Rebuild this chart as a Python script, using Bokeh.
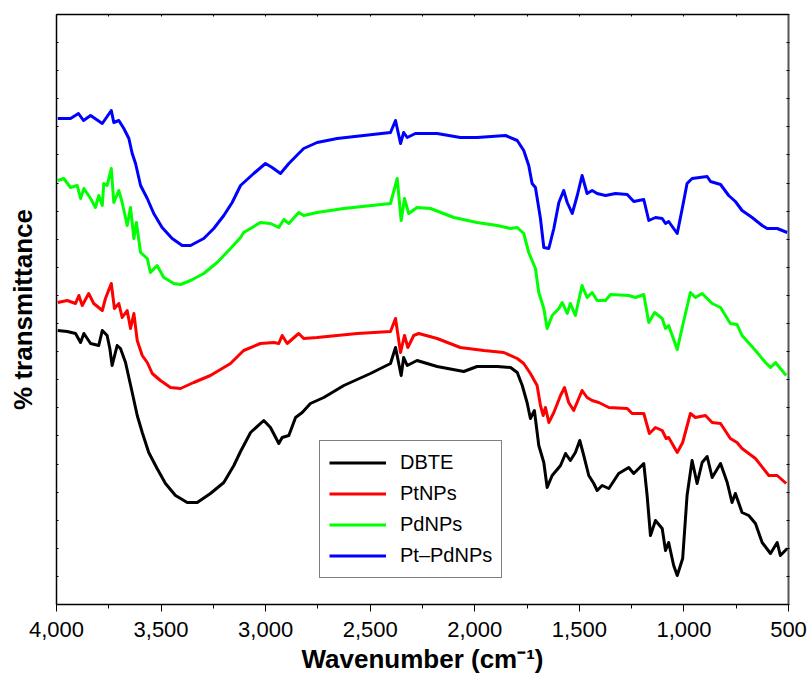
import math
from bokeh.plotting import figure
from bokeh.models import (Range1d, LinearAxis, FixedTicker, NumeralTickFormatter,
                          Legend, LegendItem, CustomJSTickFormatter)
from bokeh.embed import file_html
from bokeh.resources import INLINE

# ---- data (wavenumber, cm-1 ; transmittance in arbitrary offset units) ----
wn_dbte = [3994, 3949, 3909, 3885, 3869, 3837, 3798, 3781, 3758, 3745, 3734, 3710, 3694, 3670,
           3654, 3638, 3614, 3590, 3559, 3519, 3479, 3431, 3375, 3327, 3264, 3200, 3152, 3120,
           3072, 3009, 2977, 2937, 2921, 2889, 2857, 2825, 2786, 2722, 2626, 2499, 2403, 2379,
           2352, 2340, 2323, 2276, 2180, 2053, 1989, 1893, 1829, 1797, 1773, 1750, 1734, 1715,
           1694, 1670, 1654, 1630, 1590, 1566, 1543, 1519, 1498, 1479, 1455, 1431, 1415, 1391,
           1359, 1312, 1264, 1240, 1216, 1192, 1176, 1160, 1136, 1104, 1088, 1073, 1049, 1032,
           1006, 985, 961, 937, 913, 889, 865, 825, 793, 770, 754, 722, 690, 658, 626, 586,
           554, 539, 506]
t_dbte = [27.4, 27.3, 27.1, 26.2, 27.1, 26.1, 25.9, 27.4, 26.9, 25.6, 23.9, 25.9, 25.6, 24.2,
          22.7, 21.2, 18.9, 17.2, 15.2, 13.6, 12.1, 10.9, 10.2, 10.2, 11.1, 12.2, 13.9, 15.3,
          17.2, 18.4, 17.7, 16.1, 16.7, 16.9, 18.7, 19.2, 20.1, 20.7, 21.9, 23.1, 24.1, 25.7,
          22.9, 24.7, 23.9, 24.4, 23.8, 23.3, 23.8, 23.8, 23.7, 23.2, 21.9, 20.2, 18.6, 19.4,
          15.9, 14.2, 11.7, 12.9, 13.9, 15.1, 14.4, 15.2, 16.4, 14.9, 12.9, 12.1, 11.4, 11.9,
          11.6, 13.1, 13.7, 13.1, 13.6, 14.1, 10.9, 6.9, 8.4, 7.6, 5.4, 6.2, 3.9, 2.9,
          4.6, 10.9, 14.4, 12.1, 14.2, 14.8, 12.7, 14.1, 12.2, 10.2, 11.1, 9.2, 8.9, 8.1, 6.2, 5.1,
          6.2, 4.9, 5.6]

wn_pt = [3994, 3949, 3909, 3893, 3877, 3846, 3822, 3781, 3766, 3738, 3723, 3702, 3686, 3662,
         3646, 3630, 3614, 3590, 3566, 3542, 3503, 3455, 3407, 3344, 3264, 3200, 3168, 3120,
         3105, 3025, 2961, 2937, 2921, 2897, 2842, 2818, 2754, 2562, 2403, 2379, 2355, 2336,
         2320, 2292, 2268, 2180, 2069, 1957, 1861, 1797, 1766, 1734, 1702, 1686, 1673, 1662,
         1646, 1622, 1590, 1571, 1551, 1527, 1487, 1463, 1439, 1407, 1359, 1271, 1248, 1192,
         1165, 1136, 1104, 1085, 1073, 1032, 1006, 969, 945, 897, 865, 825, 778, 746, 722,
         658, 594, 554, 511]
t_pt = [30.2, 30.4, 30.1, 30.9, 29.9, 31.1, 30.1, 29.4, 30.6, 32.1, 29.6, 30.1, 28.7, 29.4,
        27.6, 29.1, 26.4, 24.9, 24.2, 23.1, 22.4, 21.7, 21.6, 22.2, 22.9, 23.7, 24.1, 25.1,
        25.4, 26.1, 26.2, 26.1, 26.9, 26.1, 27.1, 26.6, 26.7, 27.1, 27.3, 28.6, 25.2, 26.9,
        25.7, 26.9, 27.1, 26.6, 25.7, 25.4, 25.2, 24.6, 24.1, 23.1, 21.9, 19.9, 18.9, 19.7,
        18.2, 19.2, 20.9, 21.7, 20.2, 19.4, 21.4, 20.7, 20.4, 20.2, 19.7, 19.6, 19.1, 19.1,
        17.1, 17.7, 17.4, 16.6, 16.7, 15.2, 16.2, 19.1, 18.7, 18.9, 18.2, 18.1, 16.6, 16.2, 15.6,
        14.6, 12.9, 12.9, 12.1]

wn_pd = [3994, 3965, 3933, 3901, 3885, 3869, 3837, 3814, 3798, 3781, 3774, 3758, 3738, 3726,
         3702, 3686, 3662, 3646, 3630, 3618, 3598, 3566, 3551, 3519, 3487, 3439, 3407, 3359,
         3296, 3232, 3168, 3120, 3105, 3025, 2977, 2937, 2913, 2889, 2842, 2818, 2754, 2626,
         2403, 2371, 2352, 2336, 2316, 2276, 2212, 2100, 1989, 1893, 1829, 1797, 1766, 1742,
         1710, 1694, 1670, 1654, 1630, 1598, 1582, 1558, 1543, 1519, 1487, 1463, 1439, 1415,
         1375, 1351, 1264, 1232, 1192, 1168, 1140, 1104, 1088, 1073, 1032, 1006, 969, 945,
         913, 865, 825, 778, 746, 722, 658, 610, 586, 562, 539, 511]
t_pd = [42.4, 42.6, 41.7, 41.9, 40.6, 41.6, 40.6, 39.7, 40.9, 39.9, 42.1, 41.9, 43.6, 40.2,
        41.4, 40.2, 37.9, 39.7, 36.6, 38.2, 35.2, 34.6, 33.2, 33.9, 32.7, 32.1, 32.0, 32.4,
        33.1, 34.2, 35.6, 36.7, 37.2, 38.2, 38.1, 37.7, 38.5, 38.1, 39.2, 38.9, 39.2, 39.6,
        40.1, 42.6, 38.4, 40.6, 39.1, 39.7, 39.6, 38.7, 38.2, 37.9, 37.6, 37.7, 37.1, 35.2,
        33.6, 31.2, 29.6, 27.6, 28.9, 29.6, 30.2, 29.1, 30.1, 28.9, 31.9, 30.7, 31.2, 30.4,
        30.4, 31.0, 30.9, 30.7, 31.0, 28.2, 29.2, 28.6, 27.6, 27.9, 25.5, 27.9, 31.2, 30.7,
        31.1, 30.1, 29.7, 28.1, 28.0, 26.9, 25.4, 24.2, 23.7, 24.2, 23.6, 22.9]

wn_ptpd = [3994, 3933, 3895, 3871, 3837, 3781, 3738, 3726, 3702, 3678, 3654, 3638, 3622, 3598,
           3566, 3535, 3495, 3447, 3399, 3359, 3296, 3248, 3200, 3160, 3120, 3057, 3001, 2969,
           2929, 2889, 2842, 2818, 2754, 2658, 2531, 2403, 2379, 2355, 2340, 2323, 2284, 2180,
           2069, 1989, 1853, 1797, 1766, 1742, 1726, 1710, 1686, 1670, 1646, 1622, 1598, 1575,
           1558, 1534, 1510, 1487, 1463, 1439, 1415, 1375, 1327, 1271, 1240, 1192, 1168, 1136,
           1104, 1088, 1073, 1032, 1008, 985, 961, 889, 873, 825, 786, 754, 722, 674, 626,
           602, 554, 530, 506]
t_ptpd = [48.6, 48.6, 49.1, 48.4, 48.9, 48.1, 49.4, 48.2, 48.4, 47.6, 46.6, 45.1, 44.1, 41.9,
          40.6, 39.1, 37.7, 36.6, 35.9, 35.9, 36.6, 37.6, 38.9, 40.2, 41.9, 43.1, 44.1, 43.7,
          43.1, 44.1, 45.1, 45.6, 46.2, 46.6, 46.9, 47.2, 48.4, 46.1, 47.2, 46.7, 47.1, 47.1,
          46.7, 46.7, 46.9, 46.4, 45.4, 43.9, 42.1, 41.7, 38.6, 35.7, 35.6, 37.6, 40.2, 41.4,
          40.2, 39.1, 40.9, 42.9, 41.1, 41.4, 41.1, 40.9, 41.1, 41.0, 40.3, 40.5, 38.4, 38.7,
          38.6, 38.1, 38.3, 37.1, 39.6, 42.1, 42.6, 42.8, 42.3, 42.0, 40.9, 40.3, 39.4, 38.7, 37.9,
          37.6, 37.6, 37.4, 37.2]

series_names = ["DBTE", "PtNPs", "PdNPs", "Pt\u2013PdNPs"]
series_colors = ["#000000", "#ff0000", "#00ff00", "#0000ff"]

x_major = [4000, 3500, 3000, 2500, 2000, 1500, 1000, 500]
x_minor = [3750, 3250, 2750, 2250, 1750, 1250, 750]
y_tick_count = 21
y_top = 59.0

FONT = "Liberation Sans"

p = figure(width=807, height=679,
           x_range=Range1d(4000, 500), y_range=Range1d(0, y_top),
           output_backend="svg", toolbar_location=None,
           min_border_left=56, min_border_right=19, min_border_top=14, min_border_bottom=75,
           background_fill_color="white", border_fill_color="white")
p.grid.visible = False
p.outline_line_color = None

renderers = []
for wn, t, c in zip([wn_dbte, wn_pt, wn_pd, wn_ptpd], [t_dbte, t_pt, t_pd, t_ptpd], series_colors):
    r = p.line(wn, t, line_color=c, line_width=3, line_join="round")
    renderers.append(r)

# bottom axis
xa = p.xaxis[0]
xa.ticker = FixedTicker(ticks=x_major, minor_ticks=x_minor)
xa.formatter = NumeralTickFormatter(format="0,0")
xa.major_tick_in = 0
xa.major_tick_out = 7
xa.minor_tick_in = 0
xa.minor_tick_out = 4
xa.axis_line_color = "black"
xa.axis_line_width = 1.5
xa.major_tick_line_color = "black"
xa.minor_tick_line_color = "black"
xa.major_label_text_font = FONT
xa.major_label_text_font_size = "22px"
xa.major_label_text_color = "black"
xa.major_label_standoff = 10
xa.axis_label = "Wavenumber (cm\u207b\u00b9)"
xa.axis_label_text_font = FONT
xa.axis_label_text_font_size = "26px"
xa.axis_label_text_font_style = "bold"
xa.axis_label_text_color = "black"
xa.axis_label_standoff = 4

y_ticks = [y_top * i / y_tick_count for i in range(y_tick_count + 1)]
blank = CustomJSTickFormatter(code="return ''")

ya = p.yaxis[0]
ya.ticker = FixedTicker(ticks=y_ticks, minor_ticks=[])
ya.formatter = blank
ya.major_tick_in = 2
ya.major_tick_out = 0
ya.minor_tick_line_color = None
ya.axis_line_color = "black"
ya.axis_line_width = 1.5
ya.major_label_standoff = 0
ya.major_label_text_font_size = "0px"
ya.axis_label = "% transmittance"
ya.axis_label_text_font = FONT
ya.axis_label_text_font_size = "26px"
ya.axis_label_text_font_style = "bold"
ya.axis_label_text_color = "black"
ya.axis_label_standoff = 19

ra = LinearAxis(ticker=FixedTicker(ticks=y_ticks, minor_ticks=[]), formatter=blank)
ra.major_tick_in = 2
ra.major_tick_out = 1
ra.minor_tick_line_color = None
ra.axis_line_color = "#555555"
ra.axis_line_width = 2
ra.major_label_standoff = 0
ra.major_label_text_font_size = "0px"
p.add_layout(ra, "right")

ta = LinearAxis(ticker=FixedTicker(ticks=x_major + x_minor, minor_ticks=[]), formatter=blank)
ta.major_tick_in = 2
ta.major_tick_out = 0
ta.minor_tick_line_color = None
ta.axis_line_color = "black"
ta.axis_line_width = 1.5
ta.major_label_standoff = 0
ta.major_label_text_font_size = "0px"
p.add_layout(ta, "above")

legend = Legend(items=[LegendItem(label=n, renderers=[r]) for n, r in zip(series_names, renderers)],
                location=(263, 26))
legend.border_line_color = "black"
legend.border_line_width = 1
legend.background_fill_color = "white"
legend.background_fill_alpha = 1
legend.padding = 9
legend.spacing = 6
legend.margin = 0
legend.label_height = 25
legend.glyph_height = 25
legend.glyph_width = 57
legend.label_standoff = 14
legend.label_text_font = FONT
legend.label_text_font_size = "20px"
legend.label_text_color = "black"
p.add_layout(legend)

open("out.html", "w").write(file_html(p, INLINE))
